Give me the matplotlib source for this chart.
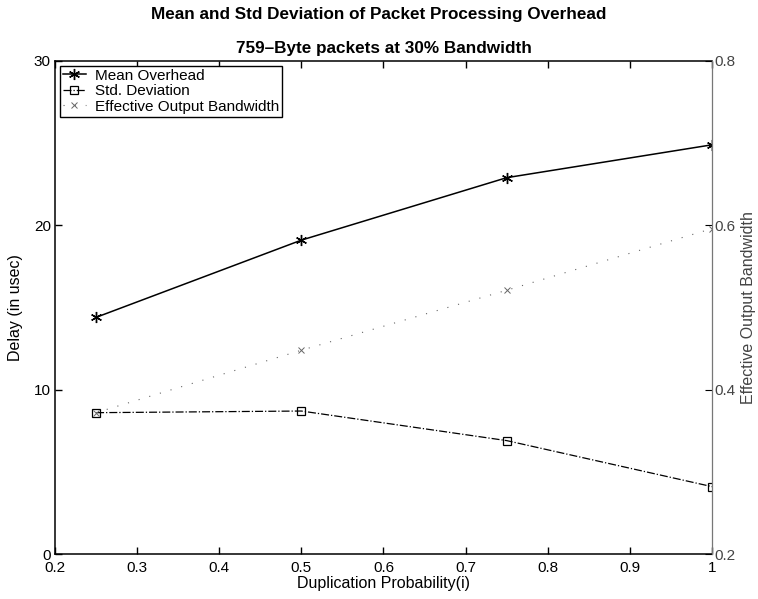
import matplotlib
matplotlib.use("Agg")
import matplotlib.pyplot as plt

plt.rcParams['font.family'] = ['Liberation Sans', 'DejaVu Sans']

# Duplication probability on the x axis
dup_prob = [0.25, 0.5, 0.75, 1.0]
# Delay values (usec)
mean_overhead = [14.4, 19.1, 22.9, 24.9]
std_deviation = [8.6, 8.7, 6.9, 4.1]
# Effective output bandwidth (right axis)
effective_bw = [0.372, 0.448, 0.521, 0.596]

x_ticks = [0.2, 0.3, 0.4, 0.5, 0.6, 0.7, 0.8, 0.9, 1.0]
x_tick_labels = ["0.2", "0.3", "0.4", "0.5", "0.6", "0.7", "0.8", "0.9", "1"]
left_ticks = [0, 10, 20, 30]
right_ticks = [0.2, 0.4, 0.6, 0.8]

fig = plt.figure(figsize=(7.58, 5.99), dpi=100)
ax = fig.add_axes([55/758, 1-554/599, (712-55)/758, (554-61)/599])
ax2 = ax.twinx()

# six-armed asterisk marker
asterisk = (6, 2, 0)

l1, = ax.plot(dup_prob, mean_overhead, color='black', lw=1.1, marker=asterisk,
              markersize=8, markeredgewidth=1.0, label='Mean Overhead')
l2, = ax.plot(dup_prob, std_deviation, color='black', lw=0.9, ls='-.',
              marker='s', markersize=5.5, markerfacecolor='none',
              markeredgewidth=0.9, label='Std. Deviation')
l3, = ax2.plot(dup_prob, effective_bw, color='#666666', lw=0.8,
               ls=(0, (1, 9)), marker='x', markersize=4,
               markeredgewidth=0.7, label='Effective Output Bandwidth')

ax.set_xlim(0.2, 1.0)
ax.set_ylim(0, 30)
ax2.set_ylim(0.2, 0.8)

ax.set_xticks(x_ticks)
ax.set_xticklabels(x_tick_labels)
ax.set_yticks(left_ticks)
ax2.set_yticks(right_ticks)
ax2.set_yticklabels([f"{v:.1f}" for v in right_ticks])

ax.tick_params(direction='in', length=5, width=1, labelsize=11,
               top=True, pad=3)
ax.tick_params(axis='x', pad=5)
ax2.tick_params(direction='in', length=5, width=0.8, labelsize=11,
                colors='black', labelcolor='#444444', pad=2)

for s in ['left', 'bottom', 'top']:
    ax.spines[s].set_linewidth(1.1)
ax.spines['right'].set_visible(False)
for s in ['left', 'bottom', 'top']:
    ax2.spines[s].set_visible(False)
ax2.spines['right'].set_linestyle((0, (1, 1)))
ax2.spines['right'].set_color('#777777')
ax2.spines['right'].set_linewidth(0.9)

ax.set_xlabel('Duplication Probability(i)', fontsize=11.5, labelpad=1)
ax.set_ylabel('Delay (in usec)', fontsize=11.5, labelpad=8)
ax2.set_ylabel('Effective Output Bandwidth', fontsize=11.5, color='#444444',
               labelpad=4)

ax.set_title('759\u2013Byte packets at 30% Bandwidth', fontsize=12.3,
             fontweight='bold', pad=6)
fig.text(0.5, 1-15/599, 'Mean and Std Deviation of Packet Processing Overhead',
         ha='center', va='center', fontsize=12.3, fontweight='bold')

leg = ax.legend(handles=[l1, l2, l3], loc='upper left', fontsize=11,
                frameon=True, fancybox=False, framealpha=1,
                edgecolor='black', handlelength=1.5, handletextpad=0.6,
                borderpad=0.2, labelspacing=0.1,
                bbox_to_anchor=(0.0, 1.0), borderaxespad=0.3)
leg.get_frame().set_linewidth(1.0)

fig.savefig('out.png', dpi=100)
